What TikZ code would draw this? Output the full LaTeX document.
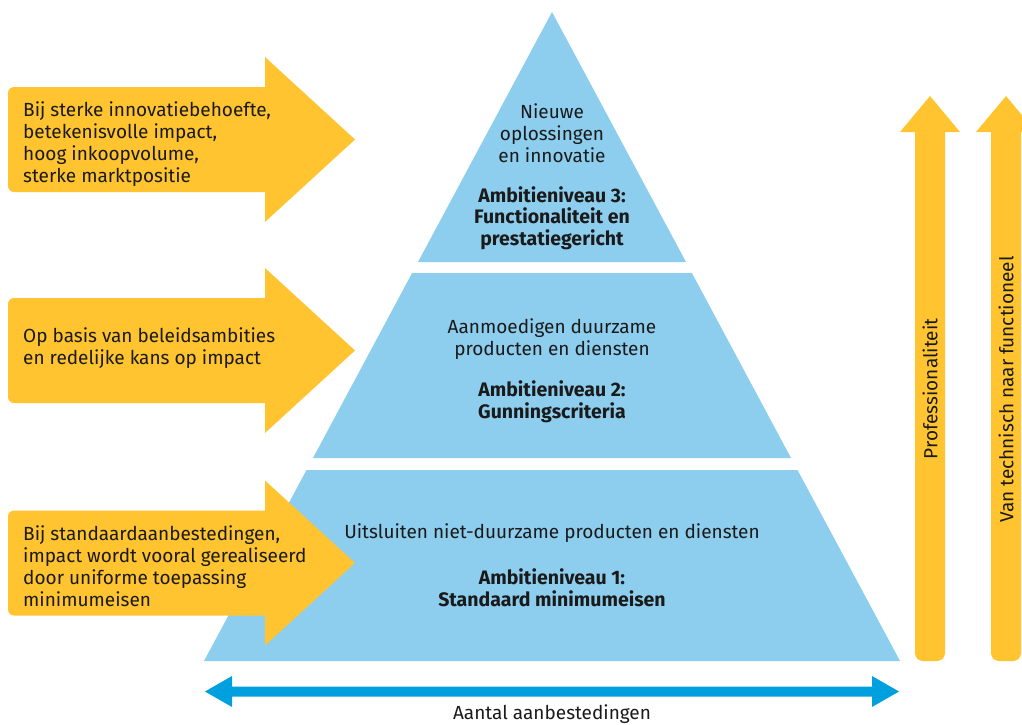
\documentclass[tikz,border=0pt]{standalone}
\usepackage{fontspec}
\setmainfont{Fira Sans}
\definecolor{pyr}{HTML}{8DCEEE}
\definecolor{gold}{HTML}{FFC42F}
\definecolor{arrowblue}{HTML}{00A0DE}
\definecolor{ink}{HTML}{1A1A1A}
\newcommand{\goldarrowat}[1]{%
  \fill[yarrow, rounded corners=6pt] (8,{#1-52.5}) rectangle (275,{#1+52.5});
  \fill[yarrow] (265,{#1-82.5}) -- (355,#1) -- (265,{#1+82.5}) -- cycle;}
\begin{document}
\begin{tikzpicture}[x=1pt,y=-1pt,
  tier/.style={fill=pyr},
  yarrow/.style={fill=gold},
  barrow/.style={fill=arrowblue},
  txt/.style={inner sep=0pt, text=ink, font=\fontsize{19}{22}\selectfont, align=center},
  ltxt/.style={txt, align=left, anchor=west},
  btxt/.style={txt, font=\bfseries\fontsize{19.5}{21.5}\selectfont}]
\useasboundingbox (0,0) rectangle (1022,725);
\clip (0,0) rectangle (1022,725);
% pyramid tiers
\fill[tier] (552,12) -- (686,262) -- (418,262) -- cycle;
\fill[tier] (412.1,273) -- (691.9,273) -- (791,458) -- (313,458) -- cycle;
\fill[tier] (306.5,470) -- (797.5,470) -- (900,661) -- (204,661) -- cycle;
% left arrows
\goldarrowat{139.5}
\goldarrowat{350.5}
\goldarrowat{563}
% vertical arrows
\fill[yarrow, rounded corners=8pt] (915,120) rectangle (945,661);
\fill[yarrow] (900,132) -- (930,96) -- (960,132) -- cycle;
\fill[yarrow, rounded corners=8pt] (991,120) rectangle (1021,661);
\fill[yarrow] (976,132) -- (1006,96) -- (1036,132) -- cycle;
% bottom double arrow
\fill[barrow] (205,691.5) -- (232,676) -- (232,686.5) -- (872,686.5) -- (872,676) -- (899,691.5) -- (872,707) -- (872,696.5) -- (232,696.5) -- (232,707) -- cycle;
% texts
\node[ltxt] (a1) at (23,144) {Bij sterke innovatiebehoefte,\\betekenisvolle impact,\\hoog inkoopvolume,\\sterke marktpositie};
\node[ltxt] (a2) at (23,348) {Op basis van beleidsambities\\en redelijke kans op impact};
\node[ltxt] (a3) at (23,566) {Bij standaardaanbestedingen,\\impact wordt vooral gerealiseerd\\door uniforme toepassing\\minimumeisen};
\node[txt] (t3a) at (552,133) {Nieuwe\\oplossingen\\en innovatie};
\node[btxt] (t3b) at (552,218) {Ambitieniveau 3:\\Functionaliteit en\\prestatiegericht};
\node[txt] (t2a) at (552,339) {Aanmoedigen duurzame\\producten en diensten};
\node[btxt] (t2b) at (552,402) {Ambitieniveau 2:\\Gunningscriteria};
\node[txt] (t1a) at (552,533) {Uitsluiten niet-duurzame producten en diensten};
\node[btxt] (t1b) at (552,588) {Ambitieniveau 1:\\Standaard minimumeisen};
\node[txt, rotate=90] (v1) at (930,389) {Professionaliteit};
\node[txt, rotate=90] (v2) at (1006,389.5) {Van technisch naar functioneel};
\node[txt] (lab) at (552,714) {Aantal aanbestedingen};
\end{tikzpicture}
\end{document}
